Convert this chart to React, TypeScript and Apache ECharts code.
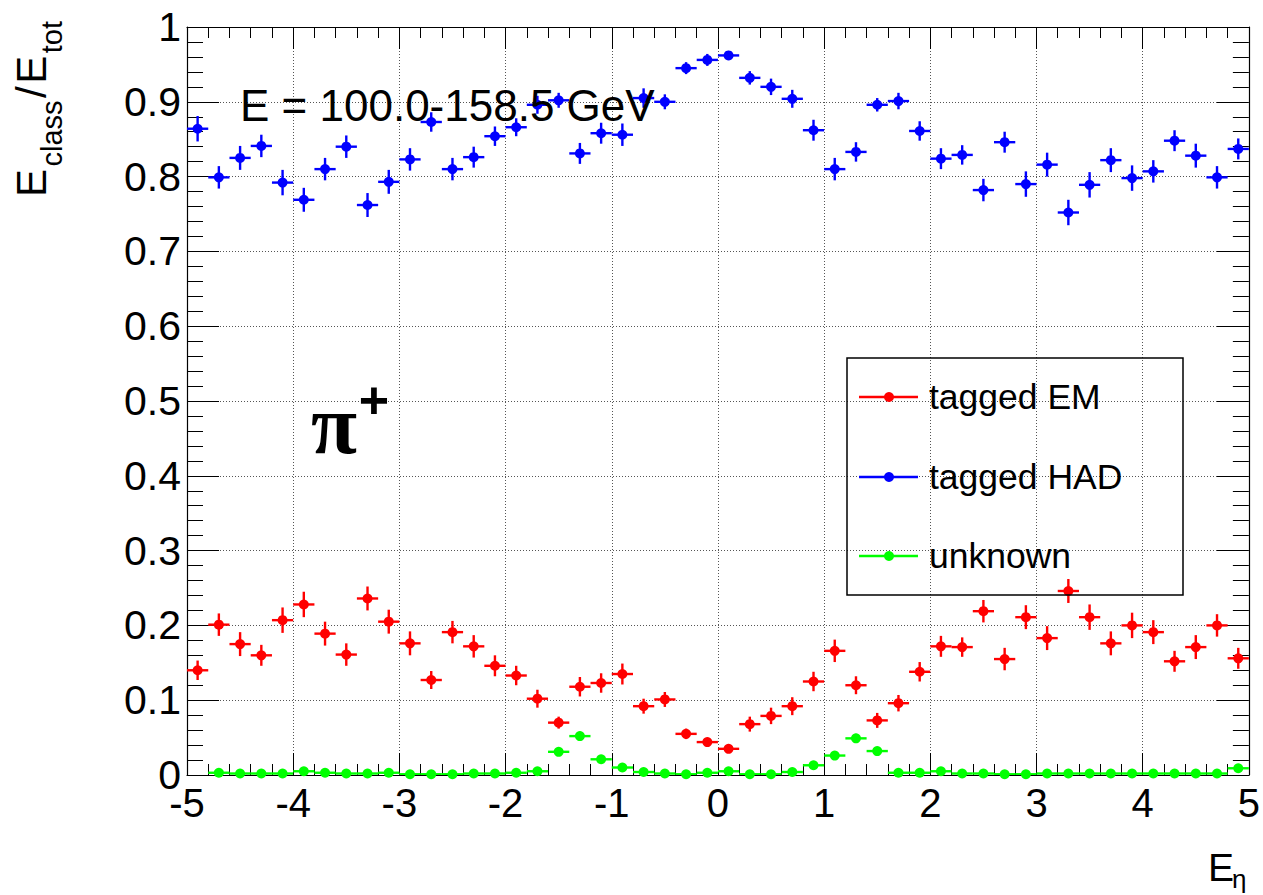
import React, { useEffect, useRef } from "react";
import * as echarts from "echarts";

// ---- data ----
const etaCenters = [
  -4.9, -4.7, -4.5, -4.3, -4.1, -3.9, -3.7, -3.5, -3.3, -3.1,
  -2.9, -2.7, -2.5, -2.3, -2.1, -1.9, -1.7, -1.5, -1.3, -1.1,
  -0.9, -0.7, -0.5, -0.3, -0.1, 0.1, 0.3, 0.5, 0.7, 0.9,
  1.1, 1.3, 1.5, 1.7, 1.9, 2.1, 2.3, 2.5, 2.7, 2.9,
  3.1, 3.3, 3.5, 3.7, 3.9, 4.1, 4.3, 4.5, 4.7, 4.9,
];
const binHalfWidth = 0.1;

const emValues = [
  0.140, 0.201, 0.175, 0.160, 0.207, 0.228, 0.189, 0.161, 0.236, 0.205,
  0.176, 0.127, 0.191, 0.172, 0.146, 0.133, 0.102, 0.070, 0.118, 0.123,
  0.135, 0.092, 0.101, 0.055, 0.044, 0.035, 0.068, 0.079, 0.092, 0.125,
  0.166, 0.120, 0.073, 0.096, 0.138, 0.172, 0.171, 0.219, 0.155, 0.211,
  0.183, 0.246, 0.211, 0.176, 0.200, 0.191, 0.152, 0.171, 0.200, 0.156,
];
const emErrors = [
  0.013, 0.015, 0.016, 0.014, 0.017, 0.017, 0.016, 0.015, 0.016, 0.016,
  0.016, 0.012, 0.015, 0.015, 0.014, 0.013, 0.012, 0.008, 0.013, 0.013,
  0.014, 0.010, 0.010, 0.007, 0.005, 0.005, 0.010, 0.011, 0.012, 0.013,
  0.015, 0.012, 0.010, 0.011, 0.013, 0.014, 0.013, 0.015, 0.015, 0.016,
  0.016, 0.016, 0.017, 0.016, 0.017, 0.016, 0.014, 0.016, 0.015, 0.014,
];

const hadValues = [
  0.864, 0.799, 0.825, 0.841, 0.792, 0.769, 0.810, 0.840, 0.762, 0.793,
  0.823, 0.873, 0.810, 0.826, 0.854, 0.866, 0.896, 0.902, 0.831, 0.858,
  0.856, 0.905, 0.900, 0.945, 0.956, 0.962, 0.932, 0.920, 0.904, 0.862,
  0.810, 0.833, 0.896, 0.901, 0.861, 0.824, 0.829, 0.782, 0.846, 0.790,
  0.816, 0.752, 0.789, 0.822, 0.798, 0.807, 0.848, 0.828, 0.799, 0.837,
];
const hadErrors = [
  0.017, 0.015, 0.016, 0.015, 0.017, 0.016, 0.015, 0.015, 0.016, 0.016,
  0.015, 0.013, 0.015, 0.014, 0.013, 0.012, 0.012, 0.010, 0.014, 0.014,
  0.015, 0.013, 0.010, 0.008, 0.008, 0.006, 0.009, 0.011, 0.012, 0.014,
  0.015, 0.013, 0.009, 0.011, 0.013, 0.014, 0.013, 0.015, 0.014, 0.017,
  0.016, 0.017, 0.017, 0.016, 0.017, 0.015, 0.014, 0.016, 0.015, 0.014,
];

const unknownValues: (number | null)[] = [
  null, 0.003, 0.002, 0.002, 0.002, 0.005, 0.003, 0.002, 0.002, 0.003,
  0.001, 0.001, 0.001, 0.002, 0.002, 0.003, 0.005, 0.031, 0.052, 0.021,
  0.010, 0.004, 0.002, 0.001, 0.003, 0.005, 0.001, 0.001, 0.004, 0.013,
  0.026, 0.049, 0.032, 0.003, 0.003, 0.005, 0.002, 0.002, 0.001, 0.001,
  0.002, 0.002, 0.002, 0.002, 0.002, 0.002, 0.002, 0.002, 0.002, 0.009,
];
const unknownErrors = [
  0.000, 0.002, 0.001, 0.001, 0.001, 0.002, 0.002, 0.001, 0.001, 0.002,
  0.001, 0.001, 0.001, 0.001, 0.001, 0.002, 0.002, 0.005, 0.006, 0.004,
  0.003, 0.002, 0.001, 0.001, 0.002, 0.002, 0.001, 0.001, 0.002, 0.003,
  0.004, 0.006, 0.005, 0.002, 0.002, 0.002, 0.001, 0.001, 0.001, 0.001,
  0.001, 0.001, 0.001, 0.001, 0.001, 0.001, 0.001, 0.001, 0.001, 0.003,
];

const seriesNames = ["tagged EM", "tagged HAD", "unknown"];
const seriesColors = ["#ff0000", "#0000ff", "#00ff00"];
const energyLabel = "E = 100.0-158.5 GeV";
const xTicks = { min: -5, max: 5, interval: 1 };
const yTicks = { min: 0, max: 1, interval: 0.1 };

const FONT = "'Liberation Sans', Arial, Helvetica, sans-serif";

function buildPoints(values: (number | null)[], errors: number[]) {
  const out: number[][] = [];
  etaCenters.forEach((x, i) => {
    const v = values[i];
    if (v === null || v === undefined) return;
    out.push([x, v, errors[i]]);
  });
  return out;
}

function measure(text: string, size: number) {
  const c = document.createElement("canvas").getContext("2d");
  if (!c) return text.length * size * 0.55;
  c.font = `${size}px 'Liberation Sans'`;
  return c.measureText(text).width;
}

export default function App() {
  const ref = useRef<HTMLDivElement>(null);

  useEffect(() => {
    document.body.style.margin = "0";
    if (!ref.current) return;
    const chart = echarts.init(ref.current, undefined, { renderer: "svg" });

    const datasets = [
      buildPoints(emValues, emErrors),
      buildPoints(hadValues, hadErrors),
      buildPoints(unknownValues, unknownErrors),
    ];

    const errorSeries = datasets.map((d, k) => ({
      type: "custom",
      name: seriesNames[k] + " err",
      xAxisIndex: 0,
      yAxisIndex: 0,
      clip: true,
      z: 3,
      data: d,
      renderItem: (params: any, api: any) => {
        const x = api.value(0);
        const y = api.value(1);
        const e = api.value(2);
        const l = api.coord([x - binHalfWidth, y]);
        const r = api.coord([x + binHalfWidth, y]);
        const t = api.coord([x, y + e]);
        const b = api.coord([x, y - e]);
        const st = { stroke: seriesColors[k], lineWidth: 2.4 };
        return {
          type: "group",
          children: [
            { type: "line", shape: { x1: l[0], y1: l[1], x2: r[0], y2: r[1] }, style: st },
            { type: "line", shape: { x1: t[0], y1: t[1], x2: b[0], y2: b[1] }, style: st },
          ],
        };
      },
    }));

    const markerSeries = datasets.map((d, k) => ({
      type: "scatter",
      name: seriesNames[k],
      xAxisIndex: 0,
      yAxisIndex: 0,
      data: d.map((p) => [p[0], p[1]]),
      symbol: "circle",
      symbolSize: 10,
      z: 4,
      itemStyle: { color: seriesColors[k], opacity: 1 },
    }));

    const axisCommon = (len: number) => ({
      axisLine: { show: true, onZero: false, lineStyle: { color: "#000", width: 1.2 } },
      axisTick: { show: true, inside: true, length: len, lineStyle: { color: "#000", width: 1 } },
      minorTick: { show: true, splitNumber: 5, length: len / 2, lineStyle: { color: "#000", width: 1 } },
      minorSplitLine: { show: false },
    });
    const gridLine = { show: true, lineStyle: { color: "#555", width: 1, type: [1, 2] } };

    // legend geometry
    const legendRows = [397, 477, 556];
    const legendGraphics: any[] = [
      {
        type: "rect",
        shape: { x: 847, y: 358, width: 336, height: 237 },
        style: { fill: "transparent", stroke: "#000", lineWidth: 1.5 },
        z: 10,
      },
    ];
    seriesNames.forEach((n, k) => {
      const y = legendRows[k];
      legendGraphics.push(
        { type: "line", shape: { x1: 859, y1: y, x2: 918, y2: y }, style: { stroke: seriesColors[k], lineWidth: 2.4 }, z: 10 },
        { type: "circle", shape: { cx: 889, cy: y, r: 5 }, style: { fill: seriesColors[k] }, z: 10 },
        {
          type: "text",
          x: 929,
          y: y,
          style: { text: n, font: `35.5px ${FONT}`, fill: "#000", textAlign: "left", textVerticalAlign: "middle" },
          z: 10,
        }
      );
    });

    // y title pieces (rotated)
    const bigF = 42;
    const subF = 29;
    const yPieces = [
      { t: "E", f: bigF },
      { t: "class", f: subF },
      { t: "/", f: bigF },
      { t: "E", f: bigF },
      { t: "tot", f: subF },
    ];
    const yTitle: any[] = [];
    let cursor = 197;
    yPieces.forEach((p) => {
      const w = measure(p.t, p.f);
      const isSub = p.f === subF;
      yTitle.push({
        type: "text",
        x: isSub ? 52 : 31,
        y: cursor,
        rotation: Math.PI / 2,
        style: {
          text: p.t,
          font: `${p.f}px ${FONT}`,
          fill: "#000",
          textAlign: "left",
          textVerticalAlign: "middle",
        },
        z: 10,
      });
      cursor -= w + 2.5;
    });

    const option: any = {
      animation: false,
      backgroundColor: "#fff",
      grid: { left: 187, right: 13, top: 27, bottom: 120, containLabel: false },
      xAxis: [
        {
          type: "value",
          position: "bottom",
          min: xTicks.min,
          max: xTicks.max,
          interval: xTicks.interval,
          ...axisCommon(22),
          splitLine: gridLine,
          axisLabel: { show: true, color: "#000", fontSize: 40, fontFamily: FONT, margin: 13, lineHeight: 30 },
        },
        {
          type: "value",
          position: "top",
          min: xTicks.min,
          max: xTicks.max,
          interval: xTicks.interval,
          ...axisCommon(22),
          splitLine: { show: false },
          axisLabel: { show: false },
        },
      ],
      yAxis: [
        {
          type: "value",
          position: "left",
          min: yTicks.min,
          max: yTicks.max,
          interval: yTicks.interval,
          ...axisCommon(32),
          splitLine: gridLine,
          axisLabel: {
            show: true,
            color: "#000",
            fontSize: 41,
            fontFamily: FONT,
            margin: 6,
            lineHeight: 24,
            formatter: (v: number) => (v === 0 ? "0" : v === 1 ? "1" : v.toFixed(1)),
          },
        },
        {
          type: "value",
          position: "right",
          min: yTicks.min,
          max: yTicks.max,
          interval: yTicks.interval,
          ...axisCommon(32),
          splitLine: { show: false },
          axisLabel: { show: false },
        },
      ],
      series: [...errorSeries, ...markerSeries],
      graphic: [
        ...legendGraphics,
        ...yTitle,
        {
          type: "text",
          x: 240,
          y: 105,
          style: { text: energyLabel, font: `44px ${FONT}`, fill: "#000", textAlign: "left", textVerticalAlign: "middle" },
          z: 10,
        },
        {
          type: "text",
          x: 334,
          y: 466,
          style: { text: "\u03C0", font: `bold 84px 'Liberation Serif', 'DejaVu Serif', serif`, fill: "#000", textAlign: "center", textVerticalAlign: "bottom" },
          z: 10,
        },
        {
          type: "text",
          x: 374,
          y: 400,
          style: { text: "+", font: `bold 52px ${FONT}`, fill: "#000", textAlign: "center", textVerticalAlign: "middle" },
          z: 10,
        },
        {
          type: "text",
          x: 1208,
          y: 867,
          style: { text: "E", font: `39px ${FONT}`, fill: "#000", textAlign: "left", textVerticalAlign: "middle" },
          z: 10,
        },
        {
          type: "text",
          x: 1232,
          y: 879,
          style: { text: "\u03B7", font: `26px ${FONT}`, fill: "#000", textAlign: "left", textVerticalAlign: "middle" },
          z: 10,
        },
      ],
    };

    chart.setOption(option);
    return () => chart.dispose();
  }, []);

  return <div ref={ref} style={{ width: 1263, height: 895 }} />;
}
